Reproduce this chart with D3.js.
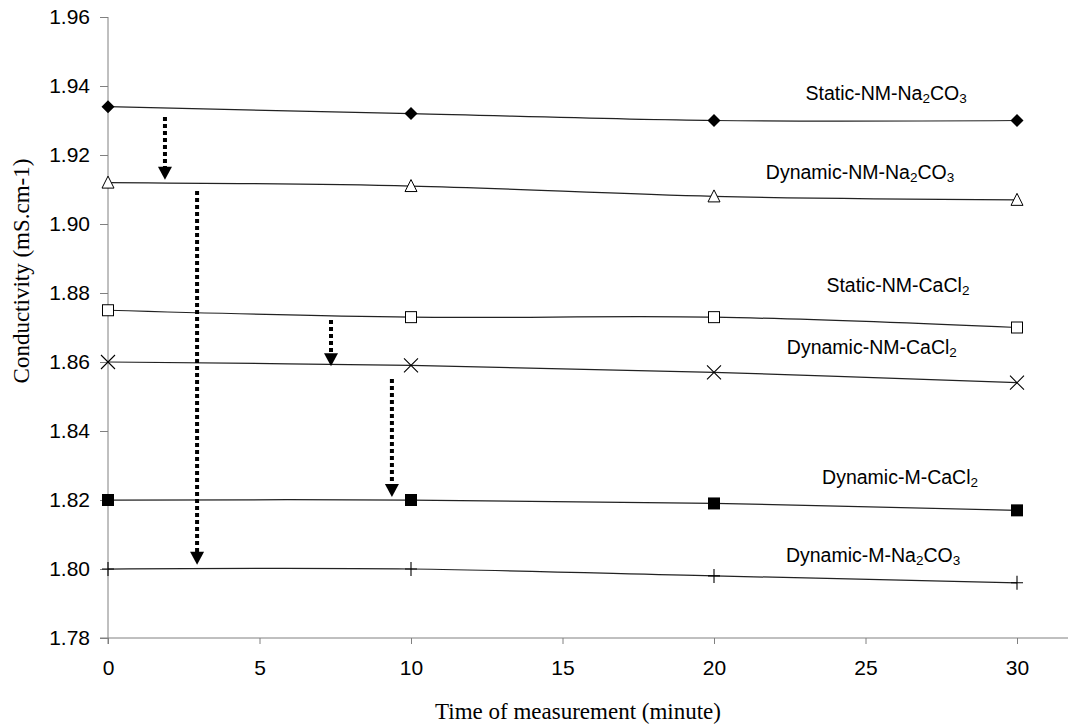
<!DOCTYPE html>
<html><head><meta charset="utf-8">
<script src="https://cdn.jsdelivr.net/npm/d3@7"></script>
<style>body{margin:0;background:#fff}</style>
</head><body>
<svg id="c" width="1070" height="728"></svg>
<script>
const times = [0, 10, 20, 30];
const staticNMNa2CO3 = [1.934, 1.932, 1.930, 1.930];
const dynamicNMNa2CO3 = [1.912, 1.911, 1.908, 1.907];
const staticNMCaCl2 = [1.875, 1.873, 1.873, 1.870];
const dynamicNMCaCl2 = [1.860, 1.859, 1.857, 1.854];
const dynamicMCaCl2 = [1.820, 1.820, 1.819, 1.817];
const dynamicMNa2CO3 = [1.800, 1.800, 1.798, 1.796];
const yTicks = [1.78, 1.80, 1.82, 1.84, 1.86, 1.88, 1.90, 1.92, 1.94, 1.96];
const xTicks = [0, 5, 10, 15, 20, 25, 30];
// label parts: [text, isSubscript]
const seriesNames = [
  [["Static-NM-Na",0],["2",1],["CO",0],["3",1]],
  [["Dynamic-NM-Na",0],["2",1],["CO",0],["3",1]],
  [["Static-NM-CaCl",0],["2",1]],
  [["Dynamic-NM-CaCl",0],["2",1]],
  [["Dynamic-M-CaCl",0],["2",1]],
  [["Dynamic-M-Na",0],["2",1],["CO",0],["3",1]]
];
// label anchor in data units (x center, y baseline value)
const labelX = [25.68, 24.82, 26.07, 25.21, 26.14, 25.25];
const labelY = [1.9359, 1.9130, 1.8803, 1.8623, 1.8246, 1.8020];
// arrows: x, from value, to value
const arrowX = [1.88, 2.94, 7.36, 9.37];
const arrowFrom = [1.931, 1.9096, 1.8722, 1.8551];
const arrowTo = [1.9128, 1.8012, 1.8588, 1.8209];

const seriesValues = [staticNMNa2CO3, dynamicNMNa2CO3, staticNMCaCl2, dynamicNMCaCl2, dynamicMCaCl2, dynamicMNa2CO3];
const markerTypes = ["diamond", "triangle", "square", "x", "squareFilled", "plus"];

const svg = d3.select("#c");
const x = d3.scaleLinear().domain([0, 30]).range([108, 1017]);
const y = d3.scaleLinear().domain([1.78, 1.96]).range([638, 17]);
const axisColor = "#808080";

// y axis
const gy = svg.append("g").attr("transform", "translate(108,0)")
  .call(d3.axisLeft(y).tickValues(yTicks).tickFormat(d3.format(".2f")).tickSize(8).tickPadding(10).tickSizeOuter(0));
gy.select(".domain").attr("stroke", axisColor).attr("d", `M0,${y(1.96)}V${y(1.78)+6}`);
gy.selectAll(".tick line").attr("stroke", axisColor);
gy.selectAll(".tick text").attr("font-family", "Liberation Sans, Arial, sans-serif").attr("font-size", 21).attr("fill", "#000");

// x axis
const gx = svg.append("g").attr("transform", "translate(0,638)")
  .call(d3.axisBottom(x).tickValues(xTicks).tickFormat(d3.format("d")).tickSize(6).tickPadding(16).tickSizeOuter(0));
gx.select(".domain").attr("stroke", axisColor).attr("d", `M${x(0)-8},0H1068`);
gx.selectAll(".tick line").attr("stroke", axisColor);
gx.selectAll(".tick text").attr("font-family", "Liberation Sans, Arial, sans-serif").attr("font-size", 21).attr("fill", "#000");

// axis titles
svg.append("text").attr("x", 578).attr("y", 719).attr("text-anchor", "middle")
  .attr("font-family", "Liberation Serif, Times New Roman, serif").attr("font-size", 23).text("Time of measurement (minute)");
svg.append("text").attr("transform", "translate(29,271) rotate(-90)").attr("text-anchor", "middle")
  .attr("font-family", "Liberation Serif, Times New Roman, serif").attr("font-size", 23).text("Conductivity (mS.cm-1)");

// lines
const line = d3.line().x(d => x(d[0])).y(d => y(d[1])).curve(d3.curveCatmullRom.alpha(0.5));
seriesValues.forEach((vals, i) => {
  const pts = times.map((t, j) => [t, vals[j]]);
  svg.append("path").attr("d", line(pts)).attr("fill", "none").attr("stroke", "#222").attr("stroke-width", 1.25);
});

// markers
seriesValues.forEach((vals, i) => {
  const type = markerTypes[i];
  times.forEach((t, j) => {
    const cx = x(t), cy = y(vals[j]);
    const g = svg.append("g").attr("transform", `translate(${cx},${cy})`);
    if (type === "diamond") g.append("path").attr("d", "M0,-6.5L6.5,0L0,6.5L-6.5,0Z").attr("fill", "#000");
    else if (type === "triangle") g.append("path").attr("d", "M0,-6.5L6,5.5L-6,5.5Z").attr("fill", "#fff").attr("stroke", "#000").attr("stroke-width", 1);
    else if (type === "square") g.append("rect").attr("x", -5.5).attr("y", -5.5).attr("width", 11).attr("height", 11).attr("fill", "#fff").attr("stroke", "#000").attr("stroke-width", 1);
    else if (type === "squareFilled") g.append("rect").attr("x", -6).attr("y", -6).attr("width", 12).attr("height", 12).attr("fill", "#000");
    else if (type === "x") g.append("path").attr("d", "M-7,-7L7,7M-7,7L7,-7").attr("stroke", "#000").attr("stroke-width", 1.1);
    else if (type === "plus") g.append("path").attr("d", "M-6,0H6M0,-7V7").attr("stroke", "#000").attr("stroke-width", 1.1);
  });
});

// series labels
seriesNames.forEach((parts, i) => {
  const t = svg.append("text").attr("x", x(labelX[i])).attr("y", y(labelY[i])).attr("text-anchor", "middle")
    .attr("font-family", "Liberation Sans, Arial, sans-serif").attr("font-size", 19.5).attr("fill", "#000");
  let shifted = false;
  parts.forEach(([s, sub]) => {
    const ts = t.append("tspan").text(s);
    if (sub && !shifted) { ts.attr("font-size", 13.5).attr("dy", 3); shifted = true; }
    else if (!sub && shifted) { ts.attr("dy", -3); shifted = false; }
    else if (sub) ts.attr("font-size", 13.5);
  });
});

// arrows
arrowX.forEach((ax, i) => {
  const px = x(ax), y0 = y(arrowFrom[i]), y1 = y(arrowTo[i]);
  const headH = 13;
  svg.append("line").attr("x1", px).attr("x2", px).attr("y1", y0).attr("y2", y1 - headH + 1)
    .attr("stroke", "#000").attr("stroke-width", 4).attr("stroke-dasharray", "4,3");
  svg.append("path").attr("d", `M${px-7},${y1-headH}L${px+7},${y1-headH}L${px},${y1}Z`).attr("fill", "#000");
});
</script>
</body></html>
